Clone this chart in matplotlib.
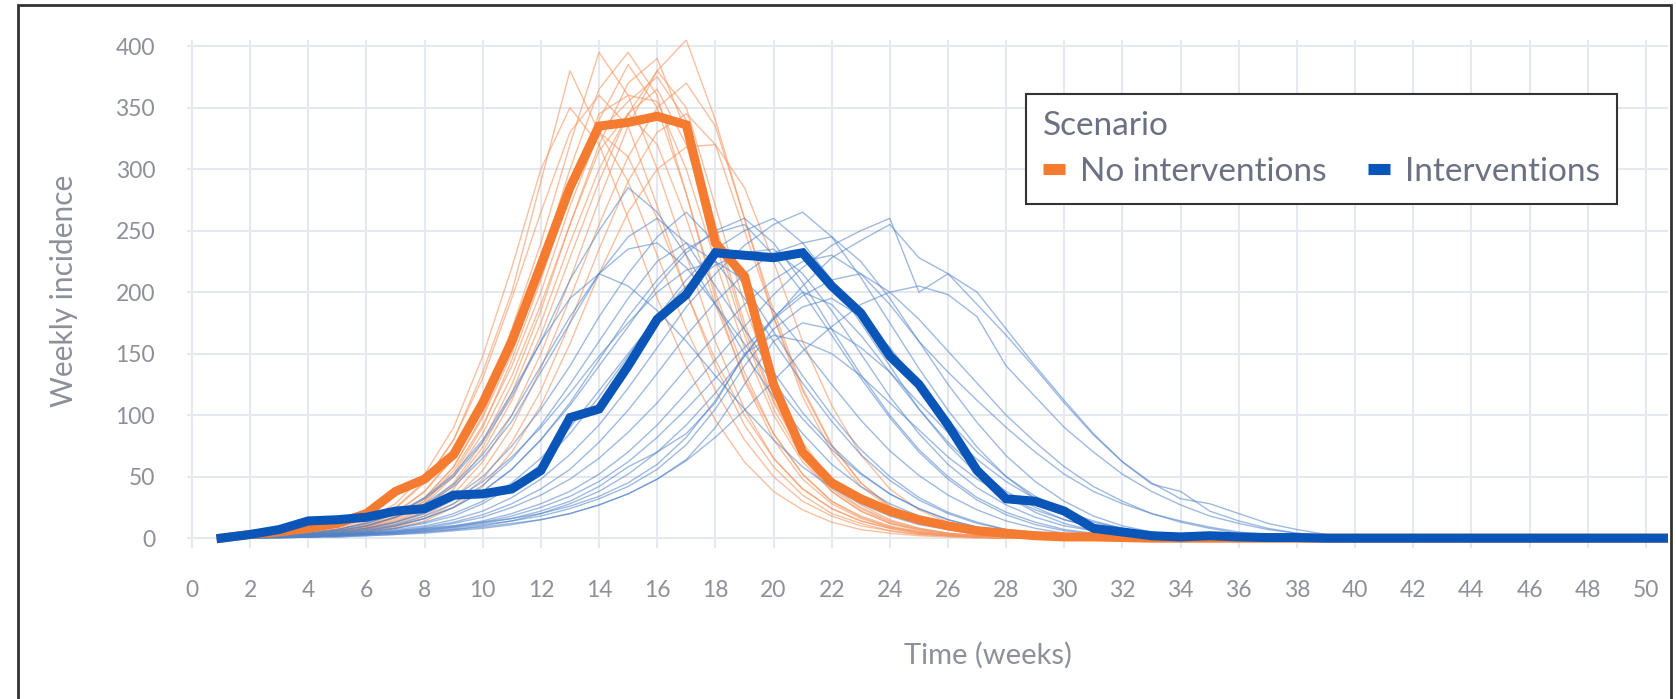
import matplotlib
matplotlib.use('Agg')
import matplotlib.pyplot as plt
from matplotlib.lines import Line2D
from matplotlib.patches import Rectangle

plt.rcParams['font.family'] = ['Lato', 'DejaVu Sans']

# weeks 1..51
weeks = list(range(1, 52))

# mean curves (thick)
mean_no_int = [0, 3, 5, 8, 12, 20, 38, 48, 68, 110, 160, 222, 285, 335, 338, 343, 336, 240, 213, 125,
               70, 45, 32, 22, 15, 10, 6, 4, 2, 1, 1, 0.5]
mean_int = [0, 3, 7, 14, 15, 17, 22, 24, 35, 36, 40, 55, 98, 105, 140, 178, 198, 232, 230, 228,
            232, 205, 183, 148, 125, 92, 55, 32, 30, 22, 8, 5, 2, 1, 2, 1, 0.5, 0.5]

# individual runs, no interventions (thin orange)
runs_no_int = [
    [0, 1, 2, 4, 7, 13, 24, 45, 80, 135, 200, 290, 380, 330, 290, 230, 170, 120, 80, 50, 30, 18, 10, 6, 3, 2, 1],
    [0, 1, 2, 3, 6, 10, 20, 38, 65, 110, 170, 240, 320, 395, 360, 300, 230, 160, 105, 65, 40, 24, 14, 8, 4, 2, 1],
    [0, 1, 2, 3, 5, 9, 16, 30, 52, 90, 145, 210, 280, 340, 385, 350, 280, 200, 135, 85, 52, 30, 18, 10, 5, 3, 1],
    [0, 1, 1, 2, 4, 8, 14, 25, 45, 78, 125, 185, 255, 320, 370, 390, 330, 250, 170, 110, 68, 40, 24, 13, 7, 4, 2, 1],
    [0, 1, 1, 2, 3, 6, 11, 20, 36, 62, 100, 150, 210, 275, 335, 380, 405, 340, 260, 180, 115, 70, 42, 25, 14, 8, 4, 2, 1],
    [0, 1, 2, 3, 5, 10, 18, 33, 58, 98, 150, 215, 285, 345, 360, 355, 300, 225, 155, 100, 62, 38, 22, 12, 7, 3, 2, 1],
    [0, 1, 2, 3, 5, 9, 17, 30, 55, 92, 140, 200, 270, 330, 355, 375, 340, 255, 175, 112, 70, 42, 25, 14, 8, 4, 2, 1],
    [0, 1, 1, 2, 3, 5, 9, 16, 28, 48, 78, 120, 175, 235, 290, 330, 345, 320, 250, 180, 120, 75, 45, 26, 15, 8, 4, 2, 1],
    [0, 1, 2, 4, 7, 13, 25, 46, 80, 130, 195, 265, 330, 360, 335, 270, 200, 140, 92, 58, 35, 20, 12, 6, 3, 2, 1],
    [0, 1, 1, 3, 5, 9, 17, 32, 58, 100, 155, 225, 300, 365, 395, 360, 280, 195, 128, 80, 48, 28, 16, 9, 5, 2, 1],
    [0, 1, 1, 2, 4, 7, 13, 24, 43, 74, 118, 175, 240, 300, 345, 365, 320, 240, 165, 105, 65, 38, 22, 12, 6, 3, 1],
    [0, 1, 2, 3, 6, 11, 21, 38, 66, 108, 162, 225, 285, 330, 310, 260, 200, 145, 100, 65, 40, 24, 14, 8, 4, 2, 1],
    [0, 1, 1, 2, 4, 8, 15, 28, 50, 85, 132, 190, 255, 315, 345, 320, 260, 190, 130, 85, 52, 30, 17, 9, 5, 2, 1],
    [0, 1, 1, 2, 3, 5, 10, 18, 32, 55, 90, 138, 195, 255, 310, 350, 370, 335, 260, 185, 122, 76, 45, 26, 14, 7, 3, 1],
    [0, 1, 2, 4, 8, 15, 28, 52, 90, 148, 220, 300, 350, 320, 260, 195, 140, 96, 62, 38, 23, 13, 7, 4, 2, 1],
    [0, 1, 1, 2, 4, 7, 12, 22, 40, 70, 112, 165, 228, 290, 345, 380, 350, 270, 190, 125, 78, 46, 27, 15, 8, 4, 2, 1],
    [0, 1, 1, 2, 3, 5, 8, 14, 25, 42, 70, 108, 158, 215, 265, 300, 318, 320, 285, 225, 160, 108, 68, 40, 23, 13, 7, 3, 1],
]

# individual runs, interventions (thin blue)
runs_int = [
    [0, 1, 2, 4, 7, 12, 20, 32, 50, 78, 115, 160, 210, 250, 285, 265, 230, 190, 150, 115, 85, 60, 42, 28, 18, 11, 7, 4, 2, 1],
    [0, 1, 2, 3, 6, 10, 17, 27, 42, 65, 95, 135, 175, 215, 245, 260, 240, 205, 170, 135, 102, 75, 53, 36, 24, 15, 9, 5, 3, 1],
    [0, 1, 1, 3, 5, 8, 13, 21, 33, 50, 75, 105, 140, 180, 215, 245, 265, 240, 205, 168, 132, 100, 72, 50, 33, 21, 13, 7, 4, 2, 1],
    [0, 1, 1, 2, 4, 6, 10, 16, 25, 38, 56, 80, 110, 145, 180, 210, 235, 248, 255, 230, 200, 165, 130, 98, 70, 48, 31, 19, 11, 6, 3, 1],
    [0, 1, 1, 2, 3, 5, 8, 12, 18, 28, 42, 60, 85, 115, 148, 180, 210, 235, 250, 260, 240, 210, 175, 140, 105, 76, 52, 34, 21, 12, 6, 3, 1],
    [0, 0, 1, 2, 3, 4, 7, 10, 15, 22, 33, 48, 68, 92, 122, 155, 188, 215, 238, 255, 265, 245, 212, 175, 138, 104, 74, 50, 32, 19, 11, 6, 3, 1],
    [0, 0, 1, 1, 2, 4, 6, 9, 13, 19, 28, 40, 56, 78, 104, 134, 165, 192, 215, 232, 240, 245, 225, 195, 160, 125, 94, 67, 46, 30, 18, 10, 5, 2, 1],
    [0, 0, 1, 1, 2, 3, 5, 7, 10, 14, 20, 28, 38, 52, 70, 92, 118, 145, 172, 198, 220, 238, 250, 260, 200, 215, 190, 165, 138, 110, 84, 62, 44, 38, 22, 14, 8, 4, 2, 1],
    [0, 0, 0, 1, 1, 2, 3, 5, 7, 10, 14, 20, 28, 38, 52, 70, 92, 118, 148, 178, 205, 228, 242, 255, 228, 215, 200, 170, 140, 112, 85, 62, 45, 32, 28, 20, 12, 7, 3, 1],
    [0, 1, 1, 2, 3, 4, 6, 8, 10, 13, 16, 20, 26, 34, 45, 60, 82, 112, 148, 180, 200, 190, 165, 135, 105, 78, 56, 38, 25, 15, 9, 5, 2, 1],
    [0, 0, 1, 1, 2, 3, 4, 6, 8, 11, 14, 18, 24, 32, 42, 56, 76, 105, 140, 170, 188, 195, 180, 155, 125, 96, 70, 50, 34, 22, 14, 8, 4, 2, 1],
    [0, 1, 1, 2, 3, 4, 5, 7, 9, 12, 16, 22, 30, 42, 58, 70, 85, 110, 150, 165, 160, 150, 132, 110, 88, 66, 48, 34, 23, 15, 9, 5, 3, 1],
    [0, 1, 2, 3, 5, 8, 13, 20, 31, 46, 66, 90, 118, 148, 175, 200, 218, 225, 210, 185, 155, 125, 96, 71, 51, 35, 23, 14, 8, 4, 2, 1],
    [0, 1, 2, 4, 7, 12, 20, 33, 52, 80, 118, 160, 195, 215, 205, 185, 160, 132, 105, 80, 58, 41, 28, 18, 11, 7, 4, 2, 1],
    [0, 1, 1, 2, 4, 7, 11, 18, 28, 43, 64, 92, 125, 160, 195, 225, 240, 225, 195, 160, 126, 95, 68, 47, 31, 20, 12, 7, 4, 2, 1],
    [0, 0, 1, 1, 2, 3, 5, 8, 12, 17, 25, 35, 48, 65, 86, 110, 138, 165, 190, 210, 225, 230, 215, 190, 160, 135, 112, 90, 70, 52, 38, 28, 20, 14, 9, 5, 3, 1],
    [0, 0, 1, 1, 2, 3, 4, 6, 9, 13, 18, 25, 34, 46, 62, 82, 105, 130, 155, 178, 197, 210, 215, 200, 178, 152, 126, 100, 78, 58, 42, 30, 20, 13, 8, 4, 2, 1],
    [0, 0, 0, 1, 1, 2, 3, 4, 6, 8, 11, 15, 20, 27, 36, 48, 63, 82, 104, 128, 152, 172, 190, 200, 205, 198, 180, 140, 115, 90, 70, 52, 38, 27, 18, 12, 7, 4, 2, 1],
    [0, 1, 1, 2, 3, 5, 8, 13, 20, 30, 45, 65, 90, 120, 150, 180, 205, 222, 232, 235, 215, 185, 150, 115, 85, 60, 41, 27, 17, 10, 6, 3, 1],
    [0, 1, 1, 2, 4, 6, 10, 16, 25, 38, 56, 80, 108, 140, 172, 205, 232, 250, 260, 240, 208, 170, 133, 100, 72, 50, 33, 21, 13, 7, 4, 2, 1],
    [0, 1, 2, 3, 6, 10, 17, 28, 44, 68, 100, 140, 180, 215, 235, 240, 220, 190, 158, 126, 97, 72, 52, 36, 24, 15, 9, 5, 3, 1],
    [0, 0, 1, 1, 2, 3, 4, 5, 7, 9, 12, 15, 20, 27, 36, 48, 64, 90, 125, 160, 175, 170, 155, 135, 110, 86, 64, 46, 32, 21, 13, 8, 4, 2, 1],
]


def pad(vals):
    # runs stop once they hit zero; fill the rest of the weeks with 0
    return list(vals) + [0] * (len(weeks) - len(vals))


ORANGE = '#f47b30'
BLUE = '#0a55b8'
TXT = '#8d9099'

fig = plt.figure(figsize=(16.76, 6.99), dpi=100)
ax = fig.add_axes([187 / 1676, 1 - 548 / 699, (1668 - 187) / 1676, (548 - 40) / 699])

for r in runs_no_int:
    ax.plot(weeks, pad(r), color='#f59660', lw=1.0, alpha=0.6)
for r in runs_int:
    ax.plot(weeks, pad(r), color='#4f82c9', lw=1.0, alpha=0.55)
ax.plot(weeks, pad(mean_no_int), color=ORANGE, lw=6.5, solid_joinstyle='miter')
ax.plot(weeks, pad(mean_int), color=BLUE, lw=6.5, solid_joinstyle='miter')

ax.set_xlim(-0.17, 50.76)
ax.set_ylim(-8, 405)
ax.set_xticks(range(0, 51, 2))
ax.set_yticks(range(0, 401, 50))
ax.grid(True, color='#e6e8ef', lw=1.5)
ax.set_axisbelow(True)
for s in ax.spines.values():
    s.set_visible(False)
ax.tick_params(length=0, labelsize=16.5, labelcolor=TXT, pad=23)

fig.text(64 / 1676, 1 - 291 / 699, 'Weekly incidence', rotation=90, ha='center', va='center',
         fontsize=21.5, color=TXT)
fig.text(988 / 1676, 1 - 655 / 699, 'Time (weeks)', ha='center', va='center', fontsize=21, color=TXT)

handles = [Line2D([0], [0], color=ORANGE, lw=8, solid_capstyle='butt'),
           Line2D([0], [0], color=BLUE, lw=8, solid_capstyle='butt')]
leg = ax.legend(handles, ['No interventions', 'Interventions'], title='Scenario', ncol=2,
                loc='upper left', bbox_to_anchor=(1026 / 1676, 1 - 94 / 699),
                bbox_transform=fig.transFigure, borderaxespad=0, fontsize=24, title_fontsize=24,
                frameon=True, fancybox=False, framealpha=1, edgecolor='#333333',
                handlelength=0.65, handletextpad=0.45, columnspacing=1.25,
                borderpad=0.52, labelspacing=0.46, alignment='left')
leg.get_frame().set_linewidth(1.5)
for t in leg.get_texts():
    t.set_color('#6c7083')
leg.get_title().set_color('#6c7083')

# outer border
fig.add_artist(Rectangle((18 / 1676, -0.1), (1671 - 18) / 1676, 1.1 - 5 / 699,
                         transform=fig.transFigure, fill=False, ec='#333333', lw=2))

fig.savefig('out.png', dpi=100)
